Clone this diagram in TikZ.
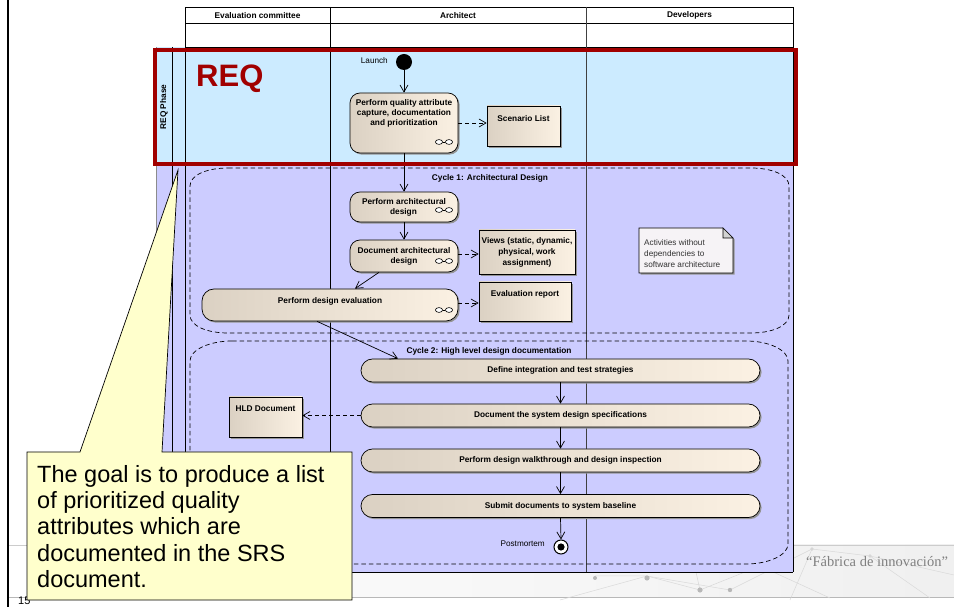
\documentclass[tikz,border=0pt]{standalone}
\usepackage{fontspec}
\setmainfont{Liberation Sans}
\newfontfamily\mottofont{Liberation Serif}
\usetikzlibrary{arrows.meta,shadows,positioning}

\definecolor{reqlane}{HTML}{CCEBFF}
\definecolor{designlane}{HTML}{CCCCFF}
\definecolor{phasered}{HTML}{A10000}
\definecolor{acttan}{HTML}{DBD1C3}
\definecolor{actcream}{HTML}{FBF1E3}
\definecolor{notepaper}{HTML}{F6F3F6}
\definecolor{notefold}{HTML}{D2D2D2}
\definecolor{calloutyellow}{HTML}{FFFFCC}
\definecolor{shadowgray}{HTML}{959595}

\newcommand\smallbold{\fontsize{8.3}{10}\selectfont\bfseries}
\newcommand\smallplain{\fontsize{8.2}{11}\selectfont}

\begin{document}
\begin{tikzpicture}[x=1pt,y=-1pt,
  lanerule/.style={draw=black, line width=0.7pt},
  boxshadow/.style={drop shadow={shadow xshift=1.6pt, shadow yshift=-1.6pt, fill=shadowgray, opacity=1}},
  activity/.style={draw=black, line width=0.7pt, rounded corners=10pt,
    left color=acttan, right color=actcream, inner sep=0pt, boxshadow,
    font=\smallbold, align=center},
  longact/.style={activity, rounded corners=11.5pt, minimum width=399pt, minimum height=23pt},
  artifact/.style={draw=black, line width=0.7pt, left color=acttan, right color=actcream,
    inner sep=0pt, boxshadow, font=\smallbold, align=center},
  lbltext/.style={font=\smallbold, align=center, inner sep=0pt},
  plaintext/.style={font=\smallplain, inner sep=0pt},
  flow/.style={draw=black, line width=0.7pt, -{Straight Barb[length=7pt,width=8pt]}},
  dataflow/.style={flow, dash pattern=on 4pt off 3pt},
  region/.style={draw=black, line width=0.7pt, dash pattern=on 4.5pt off 3pt},
  subicon/.pic={
    \draw[line width=0.6pt, fill=white] (-5,0) ellipse[x radius=3.6pt, y radius=2.4pt]
      (5,0) ellipse[x radius=3.6pt, y radius=2.4pt];
    \draw[line width=0.6pt] (-1.4,0) -- (1.4,0);}
]
\useasboundingbox (0,0) rectangle (954,609);
\fill[white] (0,0) rectangle (954,609);

% slide footer band with the faint network motif
\shade[left color=white, right color=black!6] (8,545) rectangle (954,597);
\draw[black!20] (8,545) -- (954,545);
\draw[black!28] (8,597) -- (954,597);
\begin{scope}[black!15, line width=0.5pt]
  \draw (560,600) -- (647,576) -- (700,590) -- (760,566) -- (830,598);
  \draw (595,576) -- (647,576) -- (730,590) -- (812,549) -- (870,556) -- (930,598);
  \draw (812,549) -- (790,600) (870,556) -- (954,575) (700,590) -- (690,545);
\end{scope}
\fill[black!28] (647,578) circle[radius=2.6pt] (700,590) circle[radius=2.6pt]
  (730,590) circle[radius=2.2pt] (595,578) circle[radius=2pt];
\fill[black!16] (812,549) circle[radius=1.8pt] (870,556) circle[radius=1.8pt] (760,566) circle[radius=1.8pt];
\node[font=\mottofont\fontsize{14.5}{14.5}\selectfont, text=black!50, anchor=base west, inner sep=0pt]
  (motto) at (806,567) {“Fábrica de innovación”};
\node[font=\fontsize{11}{11}\selectfont, anchor=base west, inner sep=0pt] (page-no) at (18,605) {15};
\draw[line width=2pt] (8,0) -- (8,607);

% swimlane partitions
\fill[reqlane] (156,47) rectangle (793,165);
\fill[designlane] (156,165) rectangle (793,572);
\draw[black!45, line width=0.5pt] (156,47) -- (156,572);
\draw[lanerule] (185,7) rectangle (793,47);
\draw[lanerule] (185,23) -- (793,23);
\draw[lanerule] (156,165) -- (793,165);
\draw[lanerule] (156,572) -- (793,572);
\draw[lanerule] (793,47) -- (793,572);
\draw[lanerule] (172,47) -- (172,572);
\draw[lanerule] (185,47) -- (185,572);
\draw[lanerule] (330,7) -- (330,572);
\draw[lanerule, black!75] (586,7) -- (586,572);
\node[lbltext] (h-eval) at (257.5,15.5) {Evaluation committee};
\node[lbltext] (h-arch) at (458,15.5) {Architect};
\node[lbltext] (h-dev) at (689.5,15.5) {Developers};
\node[lbltext, rotate=90] (req-phase) at (164,107) {REQ Phase};

% interruptible regions of the two design cycles
\draw[region] (228,168) -- (751,168) .. controls (772,168) and (789,175) .. (789,186)
  -- (789,315) .. controls (789,326) and (772,333) .. (751,333)
  -- (228,333) .. controls (207,333) and (190,326) .. (190,315)
  -- (190,186) .. controls (190,175) and (207,168) .. (228,168) -- cycle;
\draw[region] (232,341) -- (746,341) .. controls (769,341) and (788,350) .. (788,361)
  -- (788,544) .. controls (788,555) and (769,564) .. (746,564)
  -- (232,564) .. controls (209,564) and (190,555) .. (190,544)
  -- (190,361) .. controls (190,350) and (209,341) .. (232,341) -- cycle;
\node[lbltext] (cycle1) at (490,178) {Cycle 1: Architectural Design};
\node[lbltext] (cycle2) at (489,351) {Cycle 2: High level design documentation};

% requirements phase
\fill (404,62) circle[radius=8pt];
\coordinate (launch) at (404,70);
\node[plaintext, anchor=east] (launch-lbl) at (388,61) {Launch};
\node[activity, minimum width=108pt, minimum height=60pt] (qa) at (404,123) {};
\node[lbltext] (qa-txt) at (404,113) {Perform quality attribute\\capture, documentation\\and prioritization};
\pic at (444,142) {subicon};
\node[artifact, minimum width=73pt, minimum height=40pt] (scen) at (523.5,126) {};
\node[lbltext] (scen-txt) at (523.5,119) {Scenario List};

% cycle 1
\node[activity, minimum width=108pt, minimum height=30pt] (ad) at (404,207) {Perform architectural\\design\hspace*{1pt}};
\pic at (444,210) {subicon};
\node[activity, minimum width=108pt, minimum height=32pt] (doc) at (404,256) {Document architectural\\design};
\pic at (444,261) {subicon};
\node[artifact, minimum width=96pt, minimum height=44pt, font=\fontsize{8.3}{11}\selectfont\bfseries] (views) at (527,252)
  {Views (static, dynamic,\\physical, work\\assignment)};
\node[activity, rounded corners=12pt, minimum width=256pt, minimum height=32pt] (eval) at (330,305) {};
\node[lbltext] (eval-txt) at (330,301) {Perform design evaluation};
\pic at (444,310) {subicon};
\node[artifact, minimum width=92pt, minimum height=39pt] (evrep) at (525,301.5) {};
\node[lbltext] (evrep-txt) at (525,294) {Evaluation report};

% note in the developers lane
\path[fill=notepaper, draw=black, line width=0.6pt, boxshadow]
  (639,228) -- (723,228) -- (733,238) -- (733,273) -- (639,273) -- cycle;
\draw[fill=notefold, line width=0.6pt] (723,228) -- (723,238) -- (733,238) -- cycle;
\node[plaintext, align=left, anchor=north west, text=black!80] (note) at (644,239)
  {Activities without\\dependencies to\\software architecture};

% cycle 2
\node[longact] (define) at (560.5,370.5) {Define integration and test strategies};
\node[longact] (docsys) at (560.5,415.5) {Document the system design specifications};
\node[longact] (walk) at (560.5,460.5) {Perform design walkthrough and design inspection};
\node[longact] (submit) at (560.5,506) {Submit documents to system baseline};
\node[artifact, minimum width=73pt, minimum height=40pt] (hld) at (265.5,417) {};
\node[lbltext] (hld-txt) at (265.5,409) {HLD Document};
\node[circle, draw=black, line width=1pt, fill=white, minimum size=14pt, inner sep=0pt] (final) at (561,547) {};
\fill (final.center) circle[radius=3.6pt];
\node[plaintext, anchor=east] (post-lbl) at (545,544) {Postmortem};

% control and object flows
\draw[flow] (launch) -- (qa.north);
\draw[dataflow] (qa.east) -- (qa.east -| scen.west);
\draw[flow] (qa.south) -- (ad.north);
\draw[flow] (ad.south) -- (doc.north);
\draw[dataflow] ([yshift=2pt]doc.east) -- ([yshift=2pt]doc.east -| views.west);
\draw[flow] ([xshift=-25pt]doc.south) -- ([xshift=25pt]eval.north);
\draw[dataflow] ([yshift=2pt]eval.east) -- ([yshift=2pt]eval.east -| evrep.west);
\draw[flow] ([xshift=-13pt]eval.south) -- ([xshift=-162.5pt]define.north);
\draw[flow] (define.south) -- (docsys.north);
\draw[flow] (docsys.south) -- (walk.north);
\draw[flow] (walk.south) -- (submit.north);
\draw[flow] (submit.south) -- (final.north);
\draw[dataflow] (docsys.west) -- (docsys.west -| hld.east);

% phase highlight
\node[lbltext, font=\fontsize{31}{31}\selectfont\bfseries, text=phasered, anchor=base west] (req-title) at (196,87) {REQ};
\draw[phasered, line width=4pt] (155,50.5) rectangle (795.5,163.7);

% callout
\path[fill=calloutyellow, draw=black, line width=0.7pt]
  (27,452) -- (80,452) -- (178,170) -- (162,452) -- (352,452) -- (352,600) -- (27,600) -- cycle;
\node[font=\fontsize{23.5}{26.3}\selectfont, align=left, anchor=north west, inner sep=0pt] (goal) at (37,465)
  {The goal is to produce a list\\of prioritized quality\\attributes which are\\documented in the SRS\\document.};
\end{tikzpicture}
\end{document}
